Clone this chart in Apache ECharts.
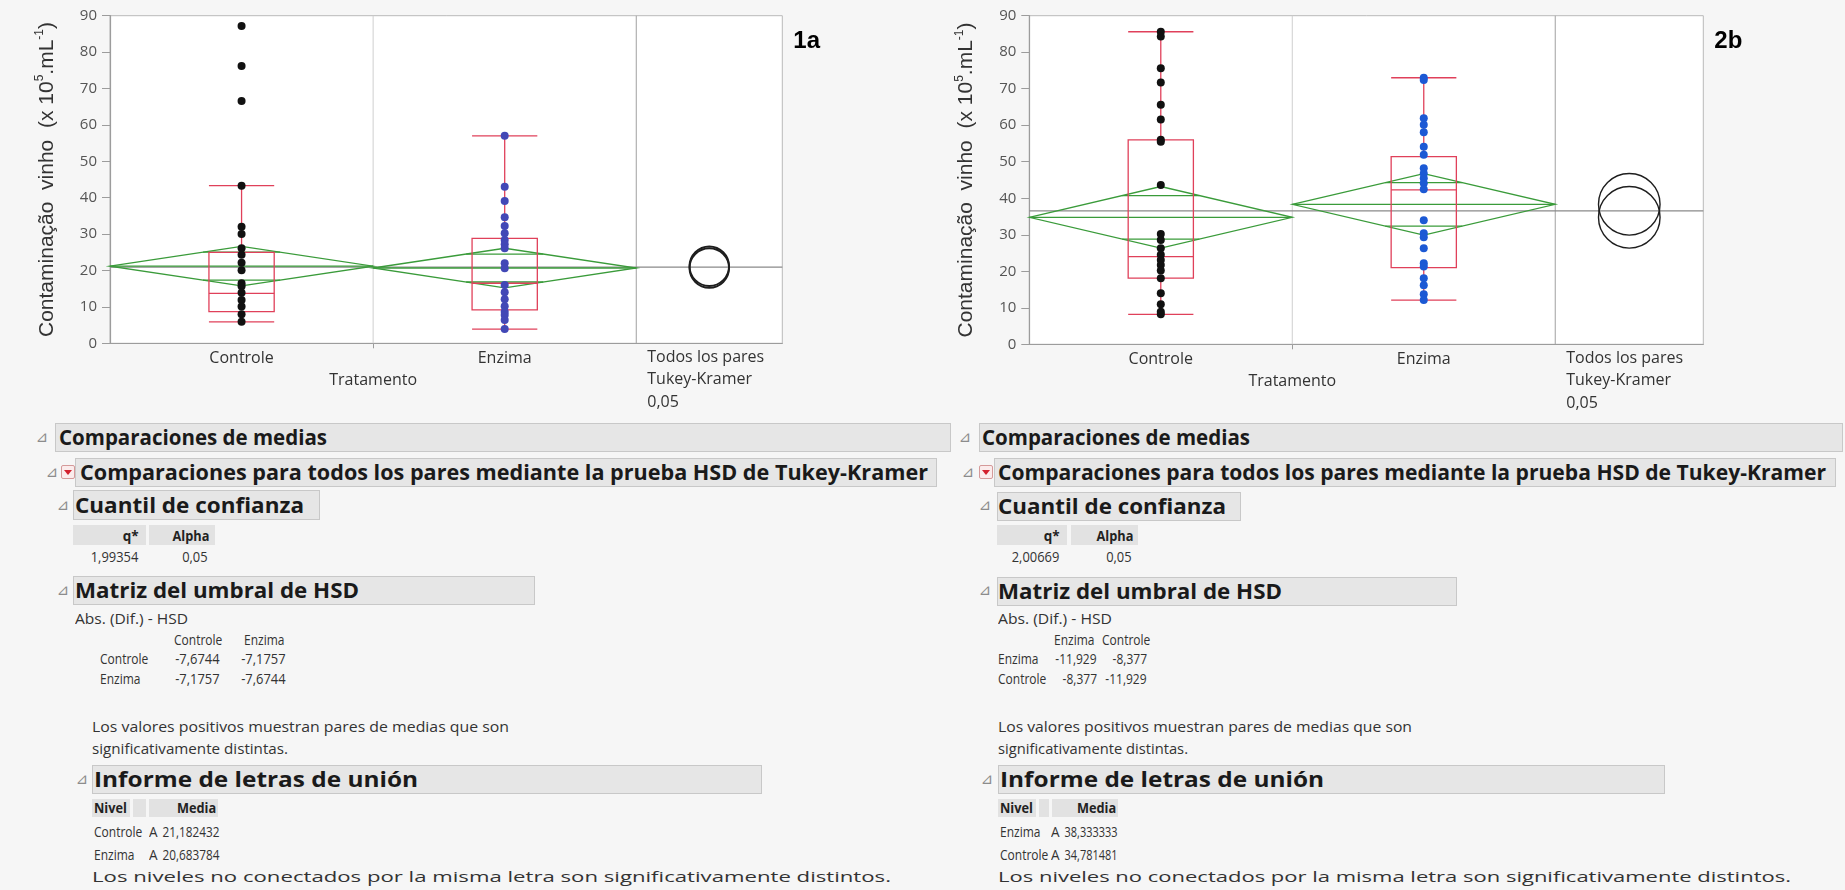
<!DOCTYPE html>
<html>
<head>
<meta charset="utf-8">
<script src="https://cdn.jsdelivr.net/npm/echarts@6/dist/echarts.min.js"></script>
<style>
  html, body { margin: 0; padding: 0; }
  body { width: 1845px; height: 890px; background: #f6f6f6; position: relative; overflow: hidden;
         font-family: "Open Sans", "Noto Sans", sans-serif; color: #222; }
  #plots { position: absolute; left: 0; top: 0; width: 1845px; height: 415px; }
  .t { position: absolute; white-space: nowrap; }
  .bar { position: absolute; background: #e6e6e6; border: 1px solid #c8c8c8; box-sizing: border-box; }
  .cell { position: absolute; background: #e2e2e2; }
  .icon { position: absolute; width: 14px; height: 14px; box-sizing: border-box; border: 1px solid #d59a9a;
          background: #fbecec; border-radius: 2px; }
  .icon::after { content: ""; position: absolute; left: 2px; top: 4px; border-left: 4px solid transparent;
                 border-right: 4px solid transparent; border-top: 5px solid #d3202d; }
</style>
</head>
<body>
<div id="plots"></div>
<script>
// ---------- data ----------
const levels = ['Controle', 'Enzima'];

// 1a: individual observations per treatment (x 10^5 / mL)
const controle1a = [87.2, 76.2, 66.6, 43.3, 32.0, 30.0, 26.1, 24.3, 22.1, 20.1, 16.5, 15.7, 13.9, 11.9, 10.1, 8.0, 5.9];
const enzima1a = [57.0, 43.0, 39.1, 34.6, 32.2, 30.2, 28.4, 27.2, 26.1, 22.0, 20.6, 16.0, 14.0, 12.1, 10.2, 8.7, 7.8, 6.4, 3.9];
// box plot: lower whisker, Q1, median, Q3, upper whisker
const box1a = [[5.9, 8.7, 13.7, 25.0, 43.3], [3.9, 9.2, 16.5, 28.8, 57.0]];
const ciHalf1a = 5.43;
const grandMean1a = 20.93;

// 2b
const controle2b = [85.6, 84.3, 75.6, 71.7, 65.6, 61.6, 56.0, 55.5, 43.6, 30.2, 28.6, 26.3, 24.5, 23.1, 21.7, 20.2, 18.1, 14.0, 11.0, 8.9, 8.2];
const enzima2b = [73.0, 72.4, 61.9, 60.1, 58.1, 54.1, 51.9, 48.2, 46.8, 45.5, 44.1, 42.5, 34.0, 30.4, 29.3, 26.3, 22.2, 21.3, 18.1, 16.2, 13.7, 12.1];
const box2b = [[8.2, 18.1, 24.0, 56.0, 85.6], [12.1, 21.0, 42.3, 51.4, 73.0]];
const ciHalf2b = 8.43;
const grandMean2b = 36.56;

const yTicks = [0, 90, 10]; // min, max, interval
const panelTags = ['1a', '2b'];
const xTitle = 'Tratamento';
const allPairsLabel = ['Todos los pares', 'Tukey-Kramer', '0,05'];

// report tables
const qStar = [1.99354, 2.00669];
const alpha = [0.05, 0.05];
const hsdOrder = [['Controle', 'Enzima'], ['Enzima', 'Controle']];
const hsdMatrix = [[[-7.6744, -7.1757], [-7.1757, -7.6744]], [[-11.929, -8.377], [-8.377, -11.929]]];
const letterOrder = [['Controle', 'Enzima'], ['Enzima', 'Controle']];
const letters = [['A', 'A'], ['A', 'A']];
const letterMeans = [[21.182432, 20.683784], [38.333333, 34.781481]];

const values = [[controle1a, enzima1a], [controle2b, enzima2b]];
const boxStats = [box1a, box2b];
const ciHalf = [ciHalf1a, ciHalf2b];
const grandMeans = [grandMean1a, grandMean2b];

// ---------- plot styling / layout ----------
const GREEN = '#3a9b3a', RED = '#e0405a';
const pointColors = [['#111111', '#4248b6'], ['#111111', '#1c59d4']];
const panelLayout = [
  { left: 110, top: 15.7, width: 672.3, height: 327.6, xMax: 2.555, circleW: 1.9 },
  { left: 1029.3, top: 15.7, width: 674, height: 328.6, xMax: 2.563, circleW: 1.4 }
];
const BOX_HALF = 0.124;

function diamondItem(params, api) {
  const g = api.value(0), m = api.value(1), ci = api.value(2);
  const L = api.coord([g, m]), T = api.coord([g + 0.5, m + ci]);
  const R = api.coord([g + 1, m]), B = api.coord([g + 0.5, m - ci]);
  const k = ci / Math.SQRT2, w = 0.5 * (1 - 1 / Math.SQRT2);
  const st = { stroke: GREEN, lineWidth: 1.3, fill: 'none' };
  const seg = (y) => {
    const a = api.coord([g + 0.5 - w, y]), b = api.coord([g + 0.5 + w, y]);
    return { type: 'line', shape: { x1: a[0], y1: a[1], x2: b[0], y2: b[1] }, style: st };
  };
  return { type: 'group', children: [
    { type: 'polygon', shape: { points: [L, T, R, B] }, style: st },
    { type: 'line', shape: { x1: L[0], y1: L[1], x2: R[0], y2: R[1] }, style: st },
    seg(m + k), seg(m - k)
  ] };
}

function boxItem(params, api) {
  const x = api.value(0);
  const hw = api.size([BOX_HALF, 0])[0];
  const y = (i) => api.coord([x, api.value(i)])[1];
  const cx = api.coord([x, 0])[0];
  const lo = y(1), q1 = y(2), md = y(3), q3 = y(4), hi = y(5);
  const st = { stroke: RED, lineWidth: 1.3, fill: 'none' };
  const ln = (x1, y1, x2, y2) => ({ type: 'line', shape: { x1, y1, x2, y2 }, style: st });
  return { type: 'group', children: [
    { type: 'rect', shape: { x: cx - hw, y: q3, width: 2 * hw, height: q1 - q3 }, style: st },
    ln(cx - hw, md, cx + hw, md),
    ln(cx, q3, cx, hi), ln(cx, q1, cx, lo),
    ln(cx - hw, hi, cx + hw, hi), ln(cx - hw, lo, cx + hw, lo)
  ] };
}

function circleItem(width) {
  return function (params, api) {
    const c = api.coord([api.value(0), api.value(1)]);
    const r = api.size([0, api.value(2)])[1];
    return { type: 'circle', shape: { cx: c[0], cy: c[1], r }, style: { stroke: '#1e1e1e', lineWidth: width, fill: 'none' } };
  };
}

const option = { animation: false, grid: [], xAxis: [], yAxis: [], series: [] };

panelLayout.forEach((lay, k) => {
  const means = levels.map(l => letterMeans[k][letterOrder[k].indexOf(l)]);
  const ci = ciHalf[k];
  option.grid.push({ left: lay.left, top: lay.top, width: lay.width, height: lay.height,
    show: true, backgroundColor: '#ffffff', borderColor: '#b9b9b9', borderWidth: 1 });
  option.xAxis.push({
    gridIndex: k, type: 'value', min: 0, max: lay.xMax,
    axisLine: { show: true, lineStyle: { color: '#9c9c9c', width: 1.2 } },
    axisTick: { show: true, customValues: [1], length: 5, lineStyle: { color: '#9c9c9c' } },
    axisLabel: { customValues: levels.map((l, i) => i + 0.5), formatter: v => levels[Math.round(v - 0.5)],
      fontSize: 16, fontFamily: 'Open Sans', color: '#333', margin: 7 },
    splitLine: { show: false }
  });
  option.yAxis.push({
    gridIndex: k, type: 'value', min: yTicks[0], max: yTicks[1], interval: yTicks[2],
    axisLine: { show: true, lineStyle: { color: '#9c9c9c', width: 1.2 } },
    axisTick: { show: true, length: 8, lineStyle: { color: '#9c9c9c' } },
    axisLabel: { fontSize: 15, fontFamily: 'Open Sans', color: '#555', margin: 13 },
    splitLine: { show: false },
    name: 'Contaminação  vinho  (x 10{s|5}.mL{s|-1})',
    nameLocation: 'middle', nameRotate: 90, nameGap: 50,
    nameTextStyle: { fontSize: 21, fontFamily: 'Liberation Sans', color: '#333', lineHeight: 26,
      rich: { s: { fontSize: 12, fontFamily: 'Liberation Sans', color: '#333', verticalAlign: 'top', lineHeight: 26 } } }
  });
  const ax = { xAxisIndex: k, yAxisIndex: k, silent: true };
  option.series.push({ ...ax, type: 'line', symbol: 'none', z: 1, data: [[1, yTicks[0]], [1, yTicks[1]]], lineStyle: { color: '#cfcfcf', width: 1 } });
  option.series.push({ ...ax, type: 'line', symbol: 'none', z: 1, data: [[2, yTicks[0]], [2, yTicks[1]]], lineStyle: { color: '#a0a0a0', width: 1 } });
  option.series.push({ ...ax, type: 'line', symbol: 'none', z: 2, data: [[0, grandMeans[k]], [lay.xMax, grandMeans[k]]], lineStyle: { color: '#8a8a8a', width: 1.3 } });
  option.series.push({ ...ax, type: 'custom', z: 3, encode: { x: 0, y: 1 }, data: means.map((m, i) => [i, m, ci]), renderItem: diamondItem });
  option.series.push({ ...ax, type: 'custom', z: 4, encode: { x: 0, y: [1, 5] }, data: boxStats[k].map((b, i) => [i + 0.5].concat(b)), renderItem: boxItem });
  values[k].forEach((vals, i) => option.series.push({ ...ax, type: 'scatter', z: 5, symbolSize: 8,
    data: vals.map(v => [i + 0.5, v]), itemStyle: { color: pointColors[k][i], opacity: 1 } }));
  option.series.push({ ...ax, type: 'custom', z: 6, encode: { x: 0, y: 1 },
    data: means.map(m => [2 + (lay.xMax - 2) / 2, m, ci]), renderItem: circleItem(lay.circleW) });
});

const chart = echarts.init(document.getElementById('plots'), null, { renderer: 'canvas' });
chart.setOption(option);

// axis titles and panel tags placed from the axis scales
const graphic = [];
panelLayout.forEach((lay, k) => {
  const px = (x, y) => chart.convertToPixel({ gridIndex: k }, [x, y]);
  const base = px(1, 0);
  graphic.push({ type: 'text', x: base[0], y: base[1] + 37, silent: true,
    style: { text: xTitle, font: '16px "Open Sans"', fill: '#333', align: 'center', verticalAlign: 'middle' } });
  const all = px(2, 0);
  allPairsLabel.forEach((s, i) => graphic.push({ type: 'text', x: all[0] + 11, y: base[1] + 14 + i * 22.5, silent: true,
    style: { text: s, font: '16px "Open Sans"', fill: '#333', align: 'left', verticalAlign: 'middle' } }));
  const corner = px(lay.xMax, yTicks[1]);
  graphic.push({ type: 'text', x: corner[0] + 11, y: corner[1] + 26, silent: true,
    style: { text: panelTags[k], font: 'bold 24px "Liberation Sans"', fill: '#000', align: 'left', verticalAlign: 'middle' } });
});
chart.setOption({ graphic });

// ---------- report ----------
const fmt = v => String(v).replace('.', ',');

function put(text, x, yc, o) {
  o = o || {};
  const d = document.createElement('div');
  d.className = 't';
  d.textContent = text;
  const size = o.size || 15;
  d.style.fontSize = size + 'px';
  d.style.fontWeight = o.bold ? '700' : '400';
  if (o.font) d.style.fontFamily = o.font;
  d.style.color = o.color || '#222';
  d.style.lineHeight = Math.round(size * 1.3) + 'px';
  d.style.top = (yc - Math.round(size * 1.3) / 2) + 'px';
  document.body.appendChild(d);
  const w = d.getBoundingClientRect().width;
  const sx = o.w ? o.w / w : (o.sx || 1);
  if (o.align === 'right') { d.style.left = (x - w) + 'px'; d.style.transformOrigin = '100% 50%'; }
  else if (o.align === 'center') { d.style.left = (x - w / 2) + 'px'; d.style.transformOrigin = '50% 50%'; }
  else { d.style.left = x + 'px'; d.style.transformOrigin = '0 50%'; }
  if (sx !== 1) d.style.transform = 'scaleX(' + sx.toFixed(4) + ')';
}
function rect(cls, x1, y1, x2, y2) {
  const d = document.createElement('div');
  d.className = cls;
  Object.assign(d.style, { left: x1 + 'px', top: y1 + 'px', width: (x2 - x1) + 'px', height: (y2 - y1) + 'px' });
  document.body.appendChild(d);
}
function tri(x, yc) { put('⊿', x, yc, { size: 15, font: 'DejaVu Sans', color: '#8c8c8c', align: 'center' }); }

const reportLayout = [
  { tri1: 42, bar1: [55, 951], t1: [59, 268], tri2: 52, icon: 61, bar2: [75, 937], t2: [80, 848],
    tri3: 63, bar3: [73, 320], y3: [490, 520], t3: [75, 229], qCell: [73, 146], aCell: [149, 215], qR: 138, aR: 208,
    tri4: 63, bar4: [73, 535], y4: [576, 605], t4: [75, 284], abs: [75, 113], colC: [198, 264], rowX: 100, valR: [220, 286],
    numSx: 0.86, body: 92, bodyW: [417, 196], tri5: 82, bar5: [92, 762], t5: [94, 324],
    nivel: [92, 130], blank: [133, 146], media: [149, 218], letterX: 149, meanR: 219, meanW: 57, lastW: 799 },
  { tri1: 965, bar1: [979, 1843], t1: [982, 268], tri2: 968, icon: 979, bar2: [994, 1836], t2: [998, 828],
    tri3: 985, bar3: [997, 1241], y3: [492, 521], t3: [998, 228], qCell: [997, 1067], aCell: [1071, 1138], qR: 1059, aR: 1132,
    tri4: 985, bar4: [997, 1457], y4: [577, 606], t4: [998, 284], abs: [998, 114], colC: [1074, 1126], rowX: 998, valR: [1097, 1147],
    numSx: 0.8, body: 998, bodyW: [414, 190], tri5: 987, bar5: [998, 1665], t5: [1000, 324],
    nivel: [998, 1036], blank: [1039, 1049], media: [1052, 1118], letterX: 1051, meanR: 1117, meanW: 53, lastW: 793 }
];

const WORD_SX = 0.8;

reportLayout.forEach((L, k) => {
  const H = { size: 21, bold: true, color: '#1a1a1a' };
  const T = { size: 15, color: '#333' };
  tri(L.tri1, 437);
  rect('bar', L.bar1[0], 423, L.bar1[1], 452);
  put('Comparaciones de medias', L.t1[0], 437, { ...H, w: L.t1[1] });

  tri(L.tri2, 472);
  rect('bar', L.bar2[0], 458, L.bar2[1], 487);
  rect('icon', L.icon, 465, L.icon + 14, 479);
  put('Comparaciones para todos los pares mediante la prueba HSD de Tukey-Kramer', L.t2[0], 472, { ...H, w: L.t2[1] });

  tri(L.tri3, 505);
  rect('bar', L.bar3[0], L.y3[0], L.bar3[1], L.y3[1]);
  put('Cuantil de confianza', L.t3[0], (L.y3[0] + L.y3[1]) / 2, { ...H, w: L.t3[1] });
  rect('cell', L.qCell[0], 525, L.qCell[1], 545);
  rect('cell', L.aCell[0], 525, L.aCell[1], 545);
  put('q*', L.qR + 1, 535, { size: 15, bold: true, align: 'right', sx: 0.9 });
  put('Alpha', L.aR + 1, 535, { size: 15, bold: true, align: 'right', sx: 0.85 });
  put(fmt(qStar[k]), L.qR, 556, { ...T, align: 'right', sx: 0.86 });
  put(fmt(alpha[k]), L.aR, 556, { ...T, align: 'right', sx: 0.86 });

  tri(L.tri4, 590);
  rect('bar', L.bar4[0], L.y4[0], L.bar4[1], L.y4[1]);
  put('Matriz del umbral de HSD', L.t4[0], (L.y4[0] + L.y4[1]) / 2, { ...H, w: L.t4[1] });
  put('Abs. (Dif.) - HSD', L.abs[0], 618, { ...T, w: L.abs[1] });
  hsdOrder[k].forEach((name, j) => put(name, L.colC[j], 639, { ...T, align: 'center', sx: WORD_SX }));
  hsdOrder[k].forEach((name, i) => {
    const yc = 658 + i * 20;
    put(name, L.rowX, yc, { ...T, sx: WORD_SX });
    hsdMatrix[k][i].forEach((v, j) => put(fmt(v), L.valR[j], yc, { ...T, align: 'right', sx: L.numSx }));
  });
  put('Los valores positivos muestran pares de medias que son', L.body, 726, { ...T, w: L.bodyW[0] });
  put('significativamente distintas.', L.body, 748, { ...T, w: L.bodyW[1] });

  tri(L.tri5, 779);
  rect('bar', L.bar5[0], 765, L.bar5[1], 794);
  put('Informe de letras de unión', L.t5[0], 779, { ...H, w: L.t5[1] });
  rect('cell', L.nivel[0], 799, L.nivel[1], 817);
  rect('cell', L.blank[0], 799, L.blank[1], 817);
  rect('cell', L.media[0], 799, L.media[1], 817);
  put('Nivel', L.nivel[0] + 2, 807, { size: 15, bold: true, sx: 0.85 });
  put('Media', L.media[1] - 2, 807, { size: 15, bold: true, align: 'right', sx: 0.85 });
  letterOrder[k].forEach((name, i) => {
    const yc = 831 + i * 23;
    put(name, L.body + 2, yc, { ...T, sx: WORD_SX });
    put(letters[k][i], L.letterX, yc, { ...T, sx: 0.9 });
    put(fmt(letterMeans[k][i]), L.meanR, yc, { ...T, align: 'right', w: L.meanW });
  });
  put('Los niveles no conectados por la misma letra son significativamente distintos.', L.body, 876, { ...T, w: L.lastW });
});
</script>
</body>
</html>
